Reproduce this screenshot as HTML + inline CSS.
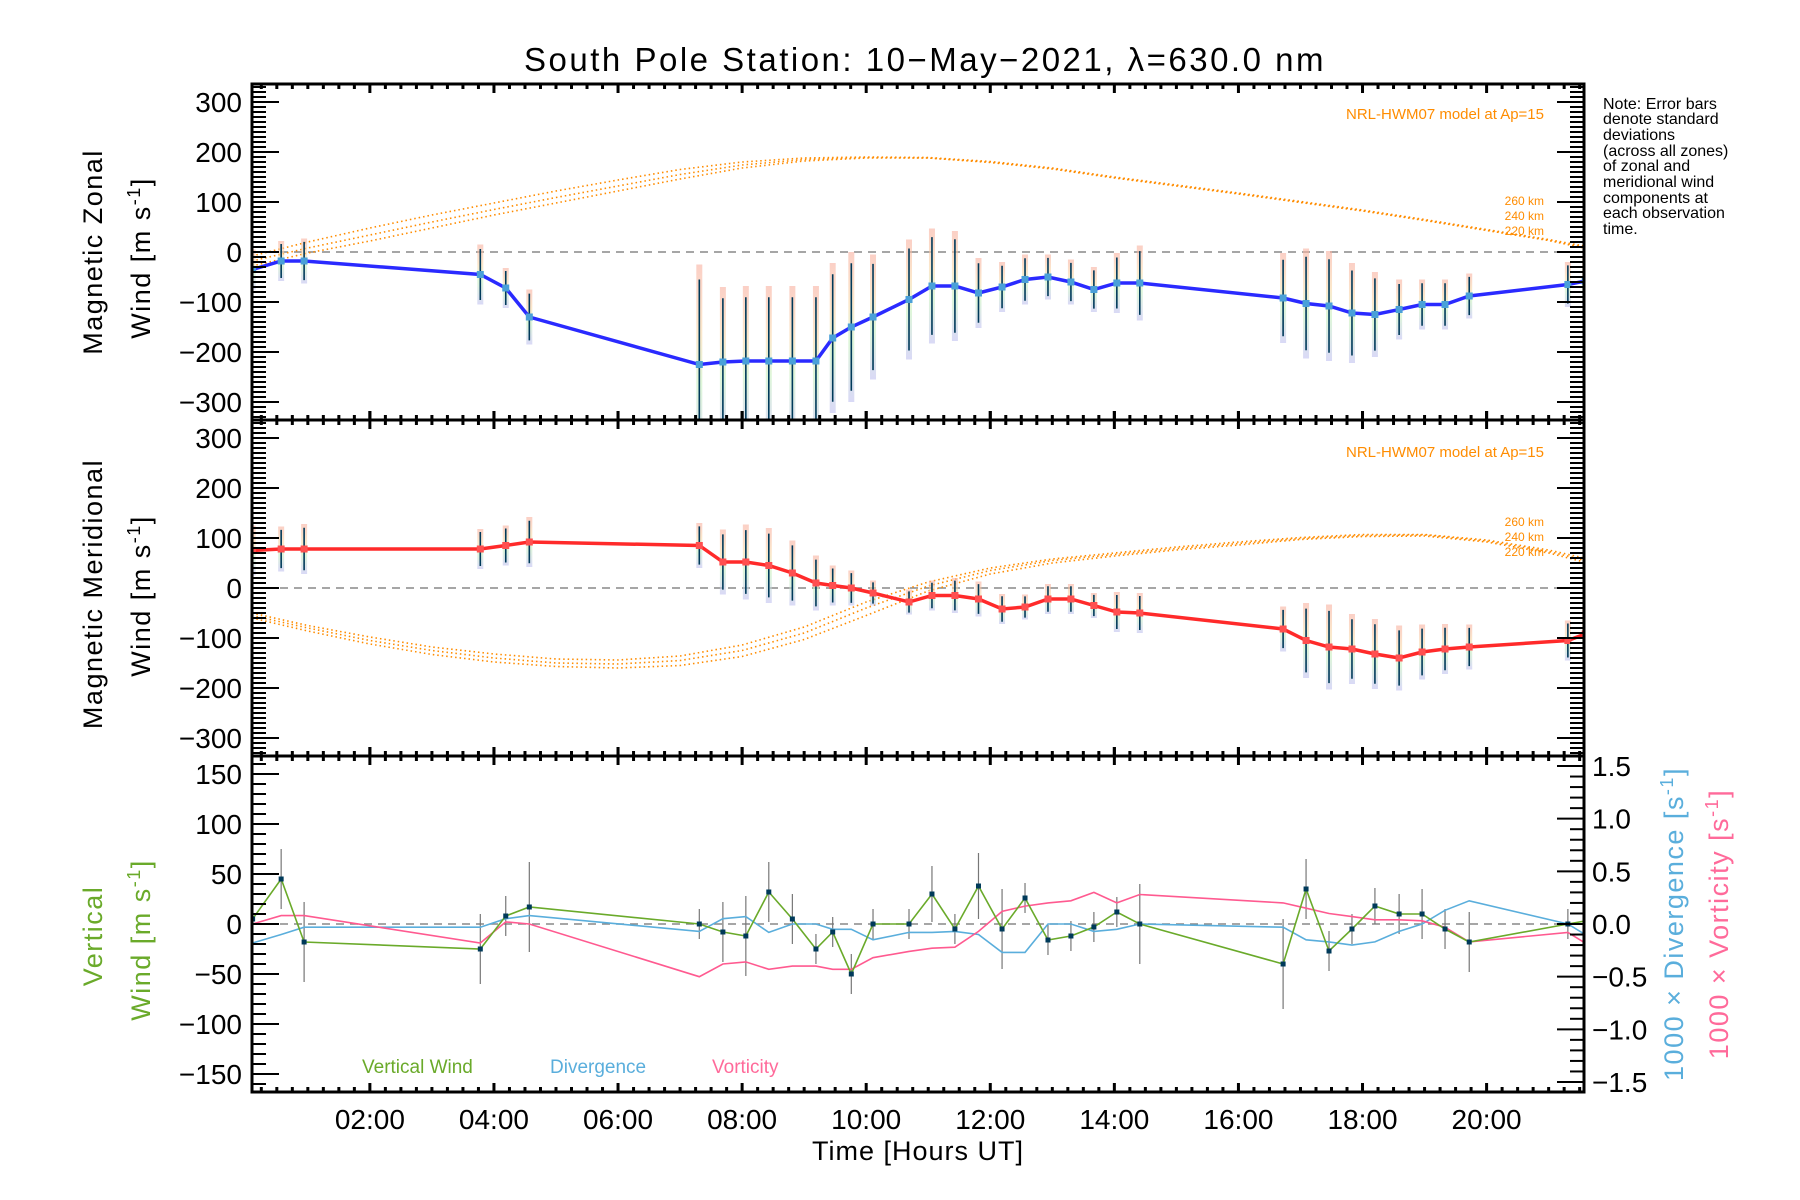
<!DOCTYPE html>
<html><head><meta charset="utf-8"><style>
body{margin:0;background:#fff}
svg{display:block;font-family:"Liberation Sans",sans-serif}
</style></head><body>
<svg id="c" width="1800" height="1200" viewBox="0 0 1800 1200">
<text x="925" y="71" text-anchor="middle" font-size="33" letter-spacing="2.5">South Pole Station: 10−May−2021, λ=630.0 nm</text>
<g font-size="16">
<text x="1603" y="109">Note: Error bars</text><text x="1603" y="124">denote standard</text><text x="1603" y="140">deviations</text><text x="1603" y="156">(across all zones)</text><text x="1603" y="171">of zonal and</text><text x="1603" y="187">meridional wind</text><text x="1603" y="203">components at</text><text x="1603" y="218">each observation</text><text x="1603" y="234">time.</text>
</g>
<text transform="translate(102,252) rotate(-90)" text-anchor="middle" font-size="27" letter-spacing="1.5">Magnetic Zonal</text>
<text transform="translate(150,258) rotate(-90)" text-anchor="middle" font-size="27" letter-spacing="1.5">Wind [m s<tspan dy="-10" font-size="18">-1</tspan><tspan dy="10">]</tspan></text>
<text transform="translate(102,594) rotate(-90)" text-anchor="middle" font-size="27" letter-spacing="1.5">Magnetic Meridional</text>
<text transform="translate(150,596) rotate(-90)" text-anchor="middle" font-size="27" letter-spacing="1.5">Wind [m s<tspan dy="-10" font-size="18">-1</tspan><tspan dy="10">]</tspan></text>
<text transform="translate(102,936) rotate(-90)" text-anchor="middle" font-size="27" letter-spacing="1.5" fill="#6aaa2a">Vertical</text>
<text transform="translate(150,940) rotate(-90)" text-anchor="middle" font-size="27" letter-spacing="1.5" fill="#6aaa2a">Wind [m s<tspan dy="-10" font-size="18">-1</tspan><tspan dy="10">]</tspan></text>
<text transform="translate(1683,924) rotate(-90)" text-anchor="middle" font-size="27" letter-spacing="1.5" fill="#5aaedc">1000 × Divergence [s<tspan dy="-10" font-size="18">-1</tspan><tspan dy="10">]</tspan></text>
<text transform="translate(1728,924) rotate(-90)" text-anchor="middle" font-size="27" letter-spacing="1.5" fill="#ff6a9a">1000 × Vorticity [s<tspan dy="-10" font-size="18">-1</tspan><tspan dy="10">]</tspan></text>
<text x="918" y="1160" text-anchor="middle" font-size="27" letter-spacing="1">Time [Hours UT]</text>
<text x="362" y="1073" font-size="19" fill="#6aaa2a">Vertical Wind</text>
<text x="550" y="1073" font-size="19" fill="#5aaedc">Divergence</text>
<text x="712" y="1073" font-size="19" fill="#ff6a9a">Vorticity</text>
<g fill="#ff8c00" font-size="15" text-anchor="end">
<text x="1544" y="119">NRL-HWM07 model at Ap=15</text>
<text x="1544" y="205" font-size="12">260 km</text><text x="1544" y="220" font-size="12">240 km</text><text x="1544" y="235" font-size="12">220 km</text>
<text x="1544" y="457">NRL-HWM07 model at Ap=15</text>
<text x="1544" y="526" font-size="12">260 km</text><text x="1544" y="541" font-size="12">240 km</text><text x="1544" y="556" font-size="12">220 km</text>
</g>
<defs><linearGradient id="pg" x1="0" y1="0" x2="0" y2="1">
<stop offset="0" stop-color="#f8b0a0"/><stop offset="0.35" stop-color="#f8d8a8"/><stop offset="0.6" stop-color="#c8f0c0"/><stop offset="1" stop-color="#c0c0f0"/></linearGradient>
<clipPath id="c1"><rect x="252" y="84" width="1332" height="336"/></clipPath>
<clipPath id="c2"><rect x="252" y="420" width="1332" height="336"/></clipPath>
<clipPath id="c3"><rect x="252" y="756" width="1332" height="336"/></clipPath>
</defs>
<g id="marks"></g>
<g id="axes"></g>
</svg>
<script>
const times=[0.11,0.57,0.94,3.78,4.19,4.57,7.31,7.69,8.06,8.43,8.81,9.19,9.46,9.76,10.11,10.69,11.06,11.43,11.81,12.19,12.56,12.93,13.30,13.67,14.04,14.41,16.72,17.09,17.46,17.83,18.20,18.59,18.96,19.33,19.72,21.31,21.59];
const zonal=[-35,-18,-18,-45,-72,-130,-225,-220,-218,-218,-218,-218,-172,-150,-130,-95,-68,-68,-82,-70,-55,-50,-60,-75,-62,-62,-92,-103,-108,-122,-125,-115,-105,-105,-88,-65,-58];
const zonalErr=[40,40,45,60,40,55,200,150,150,150,150,150,150,150,125,120,115,110,70,50,50,45,45,45,60,75,90,110,110,100,85,60,50,50,45,45,50];
const meridional=[75,78,78,78,85,92,85,52,52,45,30,10,5,0,-10,-28,-15,-15,-22,-42,-38,-22,-22,-35,-48,-50,-82,-105,-118,-122,-132,-140,-128,-122,-118,-105,-92];
const meridionalErr=[50,45,50,40,40,50,45,65,75,75,65,55,40,35,25,25,30,35,35,30,25,30,30,25,40,40,45,75,85,70,70,65,55,50,45,40,50];
const vertical=[5,45,-18,-25,8,17,0,-8,-12,32,5,-25,-8,-50,0,0,30,-5,38,-5,26,-16,-12,-3,12,0,-40,35,-27,-5,18,10,10,-5,-18,0,3];
const verticalErr=[15,30,40,35,20,45,15,30,40,30,25,15,15,20,15,15,28,15,33,40,15,15,15,15,15,40,45,30,20,15,18,20,25,20,30,15,15];
const divergence=[-0.18,-0.1,-0.03,-0.03,0.05,0.08,-0.07,0.05,0.07,-0.08,0.0,0.0,-0.05,-0.05,-0.15,-0.08,-0.08,-0.07,-0.1,-0.27,-0.27,0.0,0.0,-0.07,-0.05,0.0,-0.03,-0.15,-0.17,-0.2,-0.17,-0.07,0.0,0.13,0.22,0.0,-0.1];
const vorticity=[0.0,0.08,0.08,-0.18,0.02,0.0,-0.5,-0.38,-0.36,-0.43,-0.4,-0.4,-0.43,-0.43,-0.32,-0.26,-0.23,-0.22,-0.07,0.12,0.17,0.2,0.22,0.3,0.2,0.28,0.2,0.15,0.1,0.07,0.04,0.04,0.03,-0.03,-0.17,-0.08,-0.18];
const modelHours=[0.1,1,2,3,4,5,6,7,8,9,10,11,12,13,14,15,16,17,18,19,20,21,21.57];
const zonal260=[-8,20,48,74,98,122,144,165,180,188,190,189,181,168,150,134,118,101,84,65,45,25,12];
const zonal240=[-18,8,34,60,85,109,132,155,174,185,189,188,180,167,149,133,117,100,83,64,44,24,10];
const zonal220=[-28,-2,22,48,74,98,122,146,168,182,188,188,179,166,148,132,116,99,82,63,43,23,8];
const merid260=[-50,-75,-98,-118,-132,-142,-144,-136,-114,-78,-28,12,40,58,70,82,92,101,107,107,96,76,60];
const merid240=[-55,-80,-105,-125,-140,-150,-152,-145,-125,-90,-40,4,35,55,67,79,89,99,105,106,94,73,56];
const merid220=[-60,-86,-112,-133,-148,-157,-160,-155,-137,-103,-55,-6,28,50,64,76,86,97,103,104,92,70,52];

const NS='http://www.w3.org/2000/svg';
const X0=252,X1=1584,H0=0.1,H1=21.57;
const xs=h=>X0+(h-H0)/(H1-H0)*(X1-X0);
const panels=[{top:84,r:336},{top:420,r:336},{top:756,r:168}];
const ys=(p,v)=>panels[p].top+168-v*168/panels[p].r;
const yr=v=>924-v*168/1.595;
const marks=document.getElementById('marks'),axes=document.getElementById('axes');
function el(tag,attrs,parent){const e=document.createElementNS(NS,tag);for(const k in attrs)e.setAttribute(k,attrs[k]);(parent||marks).appendChild(e);return e;}
function poly(xsArr,ysArr){return xsArr.map((x,i)=>x.toFixed(1)+','+ysArr[i].toFixed(1)).join(' ');}

for(let p=0;p<3;p++){
  const z=el('line',{x1:X0,x2:X1,y1:ys(p,0),y2:ys(p,0),stroke:'#888','stroke-width':1.5,'stroke-dasharray':'8,6'});
  
  
}
const models=[[0,zonal260],[0,zonal240],[0,zonal220],[1,merid260],[1,merid240],[1,merid220]];
models.forEach(([p,arr])=>{
  const l=el('polyline',{points:poly(modelHours.map(xs),arr.map(v=>ys(p,v))),fill:'none',stroke:'#ff8c00','stroke-width':1.6,'stroke-dasharray':'1.5,3','clip-path':'url(#c'+(p+1)+')'});
  
  
});
[[0,zonal,zonalErr],[1,meridional,meridionalErr]].forEach(([p,vals,errs])=>{
  const g=el('g',{'clip-path':'url(#c'+(p+1)+')'});
  times.forEach((t,i)=>{
    const x=xs(t),yt=ys(p,vals[i]+errs[i]),yb=ys(p,vals[i]-errs[i]);
    const r=el('rect',{x:x-3,y:yt,width:6,height:yb-yt,fill:'url(#pg)',opacity:0.6},g);
    
    
    const l=el('line',{x1:x,x2:x,y1:ys(p,vals[i]+errs[i]*0.85),y2:ys(p,vals[i]-errs[i]*0.85),stroke:'#003a5a','stroke-width':1.6},g);
    
    
  });
  const line=el('polyline',{points:poly(times.map(xs),vals.map(v=>ys(p,v))),fill:'none',stroke:p==0?'#2a2aff':'#ff2a2a','stroke-width':3.5},g);
  
  
  times.forEach((t,i)=>{
    const s=el('rect',{x:xs(t)-3.5,y:ys(p,vals[i])-3.5,width:7,height:7,fill:p==0?'#4aa0d8':'#ff5050'},g);
    
    
  });
});
const g3=el('g',{'clip-path':'url(#c3)'});
times.forEach((t,i)=>{
  const l=el('line',{x1:xs(t),x2:xs(t),y1:ys(2,vertical[i]+verticalErr[i]),y2:ys(2,vertical[i]-verticalErr[i]),stroke:'#777','stroke-width':1.2},g3);
  
  
});
const dv=el('polyline',{points:poly(times.map(xs),divergence.map(yr)),fill:'none',stroke:'#5aaedc','stroke-width':1.6},g3);


const vo=el('polyline',{points:poly(times.map(xs),vorticity.map(yr)),fill:'none',stroke:'#ff5a90','stroke-width':1.6},g3);


const vw=el('polyline',{points:poly(times.map(xs),vertical.map(v=>ys(2,v))),fill:'none',stroke:'#6aaa2a','stroke-width':1.6},g3);


times.forEach((t,i)=>{
  const s=el('rect',{x:xs(t)-2.5,y:ys(2,vertical[i])-2.5,width:5,height:5,fill:'#003a5a'},g3);
  
  
});

function A(tag,attrs){return el(tag,attrs,axes);}
const yTicksMain=[-300,-200,-100,0,100,200,300];
const yTicksVert=[-150,-100,-50,0,50,100,150];
const yTicksRight=[-1.5,-1.0,-0.5,0.0,0.5,1.0,1.5];
const xTickHours=[2,4,6,8,10,12,14,16,18,20];
const xTickLabels=['02:00','04:00','06:00','08:00','10:00','12:00','14:00','16:00','18:00','20:00'];
for(let p=0;p<3;p++){
  const top=panels[p].top,bot=top+336;
  const fr=A('rect',{x:X0,y:top,width:X1-X0,height:336,fill:'none',stroke:'#000','stroke-width':3});
  
  
  for(let q=0;q<=21.5*4;q++){
    const h=q/4;if(h<H0||h>H1)continue;const x=xs(h);const maj=(q%8==0);const L=maj?9:5;
    A('line',{x1:x,x2:x,y1:top,y2:top+L,stroke:'#000','stroke-width':3});
    A('line',{x1:x,x2:x,y1:bot,y2:bot-L,stroke:'#000','stroke-width':3});
    if(maj&&p>0)A('line',{x1:x,x2:x,y1:top,y2:top-L,stroke:'#000','stroke-width':3});
  }
  const step=10,majStep=p<2?100:50,r=panels[p].r;
  for(let v=-Math.floor(r/step)*step;v<=r;v+=step){
    const y=ys(p,v);const maj=(v%majStep==0);const L=maj?27:14;
    A('line',{x1:X0,x2:X0+L,y1:y,y2:y,stroke:'#000','stroke-width':2});
    if(p<2)A('line',{x1:X1,x2:X1-L,y1:y,y2:y,stroke:'#000','stroke-width':2});
  }
  const labs=p<2?yTicksMain:yTicksVert;
  labs.forEach(v=>{
    const t=A('text',{x:X0-10,y:ys(p,v)+10,'text-anchor':'end','font-size':28});
    t.textContent=(v<0?'−':'')+Math.abs(v);
    
    
  });
}
for(let k=-16;k<=16;k++){
  const v=k/10;const y=yr(v);if(y<756||y>1092)continue;const maj=(k%5==0);const L=maj?27:14;
  A('line',{x1:X1,x2:X1-L,y1:y,y2:y,stroke:'#000','stroke-width':2});
}
yTicksRight.forEach(v=>{
  const t=A('text',{x:X1+8,y:yr(v)+10,'font-size':28});
  t.textContent=(v<0?'−':'')+Math.abs(v).toFixed(1);
  
  
});
xTickHours.forEach((h,i)=>{
  const t=A('text',{x:xs(h),y:1129,'text-anchor':'middle','font-size':28});
  t.textContent=xTickLabels[i];
  
  
});
</script>
</body></html>
